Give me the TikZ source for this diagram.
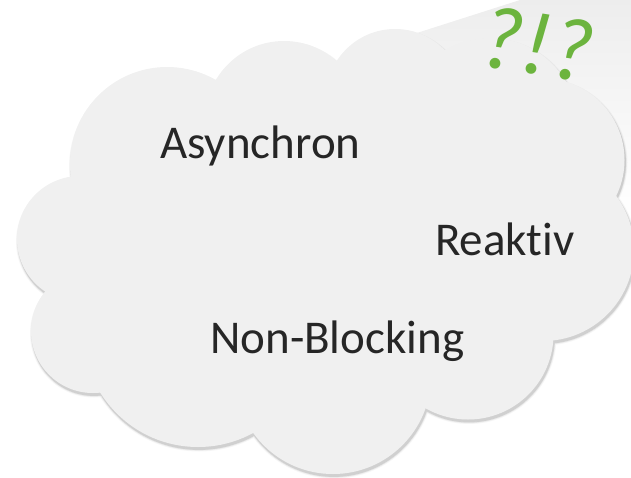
\documentclass[tikz,border=0pt]{standalone}
\usepackage{fontspec}
\setmainfont{Carlito}[Ligatures=NoCommon]
\usepackage{tikz}
\usetikzlibrary{positioning}

\definecolor{cloudgray}{HTML}{F0F0F0}
\definecolor{txtgray}{HTML}{262626}
\definecolor{qgreen}{HTML}{6CB43E}

% outline of the cloud: middle polygon plus one circle per lobe
\newcommand{\cloudshape}{(72,177) -- (217,79) -- (337,61) -- (445,50) -- (567,82) -- (618,185) -- (553,338) -- (425,408) -- (253,433) -- (100,393) -- (45,292) -- cycle
 (167,164) circle[radius=97] (284,120) circle[radius=79] (395,98) circle[radius=69] (490,126) circle[radius=88]
 (543,160) circle[radius=81.5] (543,250) circle[radius=91] (468,334) circle[radius=85.5] (333,376) circle[radius=98]
 (198,332) circle[radius=115] (93,331) circle[radius=62] (80,239) circle[radius=63]}

\begin{document}
\begin{tikzpicture}[x=1pt,y=-1pt,txt/.style={font=\fontsize{47}{47}\selectfont,text=txtgray,inner sep=0pt,anchor=base west},qm/.style={font=\fontsize{90}{90}\selectfont\itshape,text=qgreen,inner sep=0pt}]
\useasboundingbox (0,0) rectangle (631,477);
\shade[shading angle=-40,top color=black!7,bottom color=white] (395,40) -- (520,0) -- (631,0) -- (631,215) -- (560,215) -- cycle;
\foreach \w/\o in {4/.035,2.2/.06,.8/.1} {
  \begin{scope}[transparency group,opacity=\o,xshift=1pt,yshift=-2.5pt]
    \filldraw[black,line width=\w pt] \cloudshape;
  \end{scope}
}
\fill[cloudgray] \cloudshape;
\node[txt] (asyn) at (160,158) {Asynchron};
\node[txt] (reak) at (435,255) {Reaktiv};
\node[txt] (nonb) at (210,353) {Non-Blocking};
\node[qm,rotate=-9] (qm) at (537,44) {?!?};
\end{tikzpicture}
\end{document}
